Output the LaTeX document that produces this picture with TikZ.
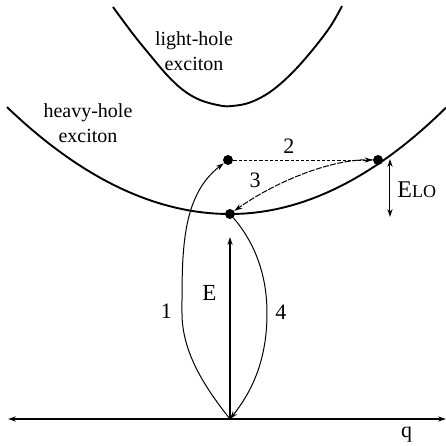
\documentclass[tikz,border=0pt]{standalone}
\usepackage{fontspec}
\setmainfont{Liberation Serif}
\usetikzlibrary{arrows.meta}
\begin{document}
\begin{tikzpicture}[x=0.5pt,y=-0.5pt,
  curve/.style={line width=0.95pt},
  axis/.style={line width=0.65pt},
  thinline/.style={line width=0.5pt},
  dot/.style={circle,fill=black,inner sep=0pt,minimum size=5pt},
  tip/.style={-{Stealth[length=4pt,width=2.6pt]}},
  tips/.style={{Stealth[length=4pt,width=2.6pt]}-{Stealth[length=4pt,width=2.6pt]}},
  lab/.style={font=\fontsize{10}{12.5}\selectfont, inner sep=0pt},
  num/.style={font=\fontsize{11}{13}\selectfont, inner sep=0pt, anchor=base}]
\useasboundingbox (0,0) rectangle (446,446);
% parabolas
\draw[curve] plot[smooth,tension=0.6] coordinates {(113,7) (133,34) (150,55) (167,75) (183,90) (200,100) (220,105.5) (232,106) (250,102.5) (270,92) (290,75) (310,53) (330,27) (342,6)};
\draw[curve] plot[domain=7:230,samples=80] (\x,{214-21.5*((\x-230)/100)^2})
  -- plot[domain=230:446,samples=80] (\x,{214-22.8*((\x-230)/100)^2});
\node[lab,align=center] (lh) at (194,51) {light-hole\\exciton};
\node[lab,align=center] (hh) at (88,123) {heavy-hole\\exciton};
% dots
\node[dot] (L) at (228,160) {};
\node[dot] (R) at (378,160) {};
\node[dot] (B) at (230,214) {};
\coordinate (O) at (230,419);
\coordinate (XL) at (8,419);
\coordinate (XR) at (446,419);
\coordinate (ET) at (230,237);
% axes
\draw[axis,tips] (XL) -- (XR);
\draw[axis,tip] (O) -- (ET);
% transitions
\draw[thinline,tip] (O) .. controls (202,384) and (182,350) .. (182,313)
   .. controls (182,253) and (181,196) .. (L);
\draw[thinline,dash pattern=on 1.6pt off 1pt,tip] (L) -- (R);
\draw[thinline,dash pattern=on 3pt off 0.7pt,tip] (R) .. controls (330,158) and (272,184) .. (B);
\draw[thinline,tip] (B) .. controls (250,237) and (267,268) .. (267,313)
   .. controls (267,350) and (258,384) .. (O);
% E_LO
\coordinate (Et) at (390,159);
\coordinate (Eb) at (390,217);
\draw[thinline,tips] (Et) -- (Eb);
% labels
\node[num] (n2) at (289,153) {2};
\node[num] (n3) at (255,187) {3};
\node[lab,anchor=base west] (elo) at (397,197) {\fontsize{12}{14}\selectfont E{\fontsize{9}{10}\selectfont LO}};
\node[num] (n1) at (166.5,318) {1};
\node[num,font=\fontsize{11.5}{13}\selectfont] (nE) at (209.5,300) {E};
\node[num] (n4) at (281,319) {4};
\node[num] (nq) at (406.5,437) {q};
\end{tikzpicture}
\end{document}
